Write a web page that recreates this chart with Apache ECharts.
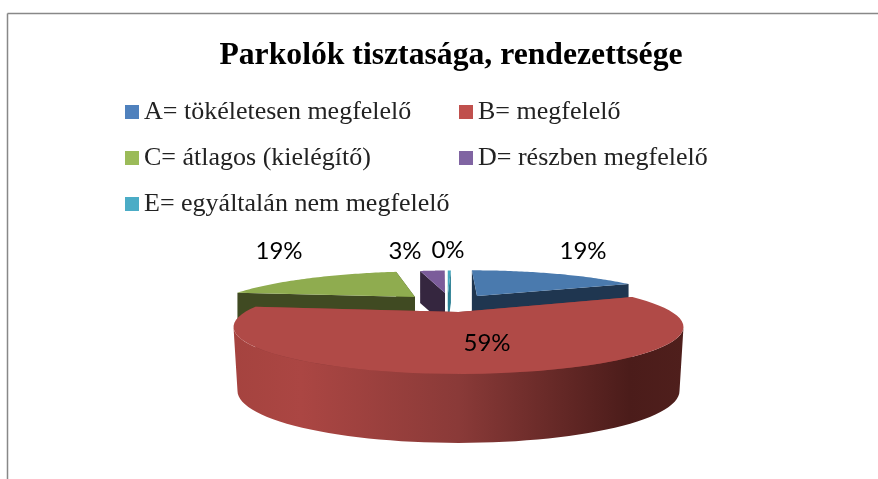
<!DOCTYPE html>
<html>
<head>
<meta charset="utf-8">
<style>
html,body{margin:0;padding:0;background:#fff;}
#main{width:878px;height:479px;}
</style>
<script src="https://cdn.jsdelivr.net/npm/echarts@6/dist/echarts.min.js"></script>
</head>
<body>
<div id="main"></div>
<script>
var titleText = 'Parkolók tisztasága, rendezettsége';
var categories = ['A= tökéletesen megfelelő', 'B= megfelelő', 'C= átlagos (kielégítő)', 'D= részben megfelelő', 'E= egyáltalán nem megfelelő'];
var values = [18.5, 58.6, 19.4, 3.1, 0.4];

var legendColors = ['#4f81bd', '#c0504d', '#9bbb59', '#8064a2', '#4bacc6'];
var topColors = ['#4a7aae', '#b04a47', '#8fac4f', '#7b5c9a', '#45a8c0'];
var wallColors = ['#1f3650', '#8a3a38', '#404a22', '#35263f', '#2b7f93'];

// per slice placement: exploded apex, squash and skew of the back slices, wall height
var slices = [
	{ x: 477, y: 296, sx: 0.885, sy: 0.8, skew: 0.2, h: 40, labelX: 583, labelY: 251, legendX: 125, legendY: 99 },
	{ x: 458.5, y: 312, sx: 1, sy: 1, skew: 0, h: 70, labelX: 487, labelY: 343, legendX: 459, legendY: 99 },
	{ x: 415, y: 297, sx: 0.885, sy: 0.8, skew: -0.5, h: 40, labelX: 279, labelY: 251, legendX: 125, legendY: 145 },
	{ x: 445, y: 293, sx: 0.78, sy: 0.7, skew: -0.13, h: 32, labelX: 405, labelY: 251, legendX: 459, legendY: 145 },
	{ x: 448, y: 293, sx: 0.78, sy: 0.7, skew: -0.13, h: 32, labelX: 448, labelY: 250, legendX: 125, legendY: 191 }
];

var rimA = 225, rimB = 47, persp = 0.72;
var rimK = (1 - persp * persp) / (1 + persp * persp);

var total = values.reduce(function (a, b) { return a + b; }, 0);
var angles = [], sum = 0;
for (var i = 0; i < values.length; i++) {
	var from = echarts.number.linearMap(sum, [0, total], [0, 360]);
	sum += values[i];
	angles.push([from, echarts.number.linearMap(sum, [0, total], [0, 360])]);
}

function rimPoint(s, deg) {
	var phi = 2 * Math.atan(persp * Math.tan(deg * Math.PI / 360));
	var dy = -rimB * (Math.cos(phi) - rimK);
	return [s.x + s.sx * rimA * Math.sin(phi) + s.skew * dy * s.sy, s.y + s.sy * dy];
}

function down(p, h) {
	return [p[0], p[1] + h];
}

function frontWall(s) {
	var pts = [], low = [];
	var rimY = s.y + rimB * rimK;
	for (var deg = 90; deg <= 270; deg += 3) {
		var r = deg * Math.PI / 180;
		pts.push([s.x + rimA * Math.sin(r), rimY - rimB * Math.cos(r)]);
		low.push([s.x + 221 * Math.sin(r), rimY + 64 - 52 * Math.cos(r)]);
	}
	return pts.concat(low.reverse());
}

function renderSlice(params, api) {
	var idx = params.seriesIndex;
	var s = slices[idx];
	var from = angles[idx][0], to = angles[idx][1];
	var apex = [s.x, s.y];
	var top = [apex];
	for (var n = 0; n <= 60; n++) {
		top.push(rimPoint(s, from + (to - from) * n / 60));
	}
	var first = top[1], last = top[top.length - 1];
	var children = [];
	children.push({ type: 'polygon', shape: { points: [last, apex, down(apex, s.h), down(last, s.h)] }, style: { fill: wallColors[idx] } });
	children.push({ type: 'polygon', shape: { points: [first, apex, down(apex, s.h), down(first, s.h)] }, style: { fill: wallColors[idx] } });
	if (idx === 1) {
		children.push({
			type: 'polygon',
			shape: { points: frontWall(s) },
			style: {
				fill: {
					type: 'linear', x: 0, y: 0, x2: 1, y2: 0,
					colorStops: [
						{ offset: 0, color: '#a5433f' },
						{ offset: 0.15, color: '#ab4643' },
						{ offset: 0.5, color: '#8a3a38' },
						{ offset: 0.88, color: '#4b1c1a' },
						{ offset: 1, color: '#4f1f1c' }
					]
				}
			}
		});
	}
	children.push({ type: 'polygon', shape: { points: top }, style: { fill: topColors[idx] } });
	children.push({
		type: 'text',
		x: s.labelX,
		y: s.labelY,
		style: {
			text: Math.round(api.value(0)) + '%',
			fill: '#000',
			fontFamily: 'Lato',
			fontSize: 24,
			align: 'center',
			verticalAlign: 'middle'
		}
	});
	return { type: 'group', children: children };
}

var chart = echarts.init(document.getElementById('main'));

var option = {
	animation: false,
	backgroundColor: '#fff',
	title: {
		text: titleText,
		left: 446,
		top: 35,
		textAlign: 'center',
		textStyle: { color: '#000', fontFamily: 'Liberation Serif', fontWeight: 'bold', fontSize: 31.7 }
	},
	legend: categories.map(function (name, i) {
		return {
			data: [name],
			left: slices[i].legendX,
			top: slices[i].legendY,
			padding: 0,
			itemWidth: 14,
			itemHeight: 14,
			icon: 'rect',
			selectedMode: false,
			textStyle: { color: '#222', fontFamily: 'Liberation Serif', fontSize: 26 }
		};
	}),
	graphic: [
		{ type: 'line', shape: { x1: 7.5, y1: 13.5, x2: 878, y2: 13.5 }, style: { stroke: '#888', lineWidth: 1.5 } },
		{ type: 'line', shape: { x1: 7.5, y1: 13.5, x2: 7.5, y2: 479 }, style: { stroke: '#888', lineWidth: 1.5 } }
	],
	series: categories.map(function (name, i) {
		return {
			type: 'custom',
			name: name,
			coordinateSystem: 'none',
			z: i === 1 ? 3 : 2,
			silent: true,
			itemStyle: { color: legendColors[i] },
			data: [[values[i]]],
			renderItem: renderSlice
		};
	})
};

chart.setOption(option);
</script>
</body>
</html>
